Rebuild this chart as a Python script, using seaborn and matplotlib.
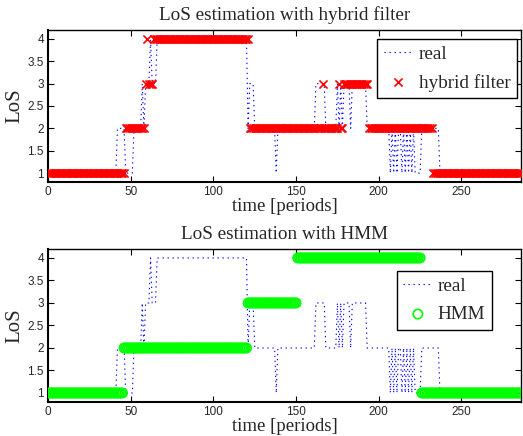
import numpy as np
import pandas as pd
import matplotlib
matplotlib.use("Agg")
import matplotlib.pyplot as plt
import seaborn as sns

# run-length encoded series (level, number of periods)
real_levels = [1, 2, 1, 2, 3, 2, 3, 4, 3, 4, 2, 3, 2, 1, 2, 3, 2, 3, 2, 3, 2, 3, 2, 3,
               2, 1, 2, 1, 2, 1, 2, 1, 2, 1, 2, 1, 2, 1, 2, 1, 2, 1]
real_runs = [42, 5, 5, 5, 1, 1, 3, 1, 3, 55, 1, 3, 13, 1, 23, 6, 7, 1, 1, 1, 1, 4, 1, 9,
             14, 1, 1, 1, 1, 1, 2, 1, 1, 1, 1, 1, 1, 1, 1, 4, 11, 50]
hyb_levels = [1, 2, 3, 4, 3, 4, 2, 3, 2, 3, 2, 3, 2, 1]
hyb_runs = [47, 12, 1, 1, 3, 58, 44, 1, 9, 1, 2, 15, 39, 54]
hmm_levels = [1, 2, 3, 4, 1]
hmm_runs = [46, 75, 30, 75, 61]

real = np.repeat(real_levels, real_runs)
hyb = np.repeat(hyb_levels, hyb_runs)
hmm = np.repeat(hmm_levels, hmm_runs)
t = np.arange(len(real))
df = pd.DataFrame({"t": t, "real": real, "hybrid": hyb, "hmm": hmm})

sns.set_theme(style="ticks")
plt.rcParams["font.family"] = ["Liberation Serif", "DejaVu Serif"]
plt.rcParams["xtick.direction"] = "in"
plt.rcParams["ytick.direction"] = "in"

fig = plt.figure(figsize=(5.23, 4.36), dpi=100)
ax1 = fig.add_axes([0.0918, 0.5826, 0.9044, 0.3486])
ax2 = fig.add_axes([0.0918, 0.078, 0.9044, 0.351])

panels = [
    (ax1, "hybrid", "hybrid filter", "LoS estimation with hybrid filter", (0.9915, 0.941), 7),
    (ax2, "hmm", "HMM", "LoS estimation with HMM", (0.939, 0.856), 7.5),
]
for ax, col, lab, title, anchor, tpad in panels:
    sns.lineplot(data=df, x="t", y="real", ax=ax, color="blue", linestyle=(0, (1.2, 3.3)),
                 linewidth=0.8, label="real")
    if col == "hybrid":
        sns.scatterplot(data=df, x="t", y=col, ax=ax, marker="x", color="red",
                        s=34, linewidth=1.2, label=lab, zorder=3)
    else:
        sns.scatterplot(data=df, x="t", y=col, ax=ax, marker="o", facecolor="none",
                        edgecolor=(0, 1, 0), s=45, linewidth=1.2, label=lab, zorder=3)
    ax.set_xlim(0, 286)
    ax.set_ylim(0.8, 4.2)
    ax.set_xticks([0, 50, 100, 150, 200, 250])
    ax.set_yticks([1, 1.5, 2, 2.5, 3, 3.5, 4])
    ax.set_yticklabels(["1", "1.5", "2", "2.5", "3", "3.5", "4"])
    for lbl in ax.get_xticklabels() + ax.get_yticklabels():
        lbl.set_family(["Liberation Sans", "DejaVu Sans"])
        lbl.set_fontsize(8.5)
    ax.tick_params(top=True, right=True, length=4, width=0.8, color="black", pad=3)
    for sp in ax.spines.values():
        sp.set_visible(True)
        sp.set_color("black")
        sp.set_linewidth(1.0)
    ax.spines["left"].set_linewidth(1.5)
    ax.spines["bottom"].set_linewidth(1.5)
    ax.set_title(title, fontsize=13.8, pad=tpad)
    ax.set_xlabel("time [periods]", fontsize=13.5, labelpad=0)
    ax.set_ylabel("LoS", fontsize=15, labelpad=2)
    leg = ax.legend(loc="upper right", bbox_to_anchor=anchor, fontsize=13.8,
                    fancybox=False, edgecolor="black", framealpha=1,
                    borderaxespad=0, handlelength=1.5, handletextpad=0.3,
                    borderpad=0.35, labelspacing=0.55)
    leg.get_frame().set_linewidth(1.0)

fig.savefig("out.png", dpi=100)
